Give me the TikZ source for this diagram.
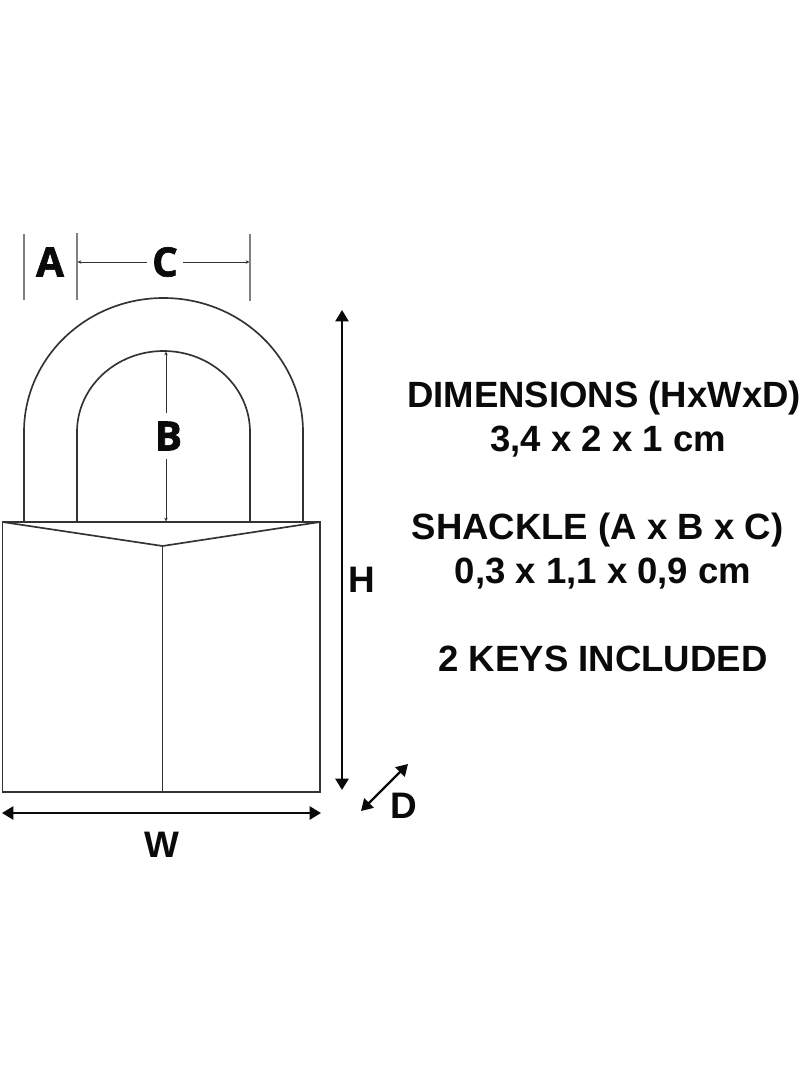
\documentclass[tikz,border=0pt]{standalone}
\usepackage{fontspec}
\usepackage{xcolor}
\setmainfont{Liberation Sans}
\newfontfamily\labelfont[BoldFeatures={FakeBold=1.6}]{Open Sans}
\usetikzlibrary{arrows.meta}
\definecolor{outline}{HTML}{333333}
\definecolor{tick}{HTML}{808080}
\definecolor{ink}{HTML}{0A0A0A}
\tikzset{
  lockLine/.style={draw=outline, line width=0.95pt},
  tickLine/.style={draw=tick, line width=0.6pt},
  thinEnd/.style={draw=outline, line width=0.55pt, -{Stealth[length=2.2pt,width=2pt]}},
  sizeArrow/.style={draw=ink, line width=1.3pt, {Stealth[length=6.5pt,width=7.5pt,inset=0pt]}-{Stealth[length=6.5pt,width=7.5pt,inset=0pt]}},
  partLabel/.style={text=ink, font=\labelfont\fontsize{23}{23}\selectfont\bfseries, inner sep=2.5pt},
  sizeLabel/.style={text=ink, font=\fontsize{21}{21}\selectfont\bfseries},
  infoText/.style={text=ink, font=\fontsize{20.8}{25}\selectfont\bfseries, anchor=base}
}

\begin{document}
\begin{tikzpicture}[x=0.02cm,y=0.02cm]
  \useasboundingbox[fill=white] (0,0) rectangle (800,-1091);

  \draw[lockLine] (24,-522) -- (24,-432) arc[start angle=180,end angle=0,x radius=139.5,y radius=134] -- (303,-522);
  \draw[lockLine] (77,-522) -- (77,-432) arc[start angle=180,end angle=0,x radius=86.5,y radius=81] -- (250,-522);
  \draw[lockLine] (2.5,-522) rectangle (320,-792);
  \draw[lockLine] (2.5,-522) -- (162.5,-546) -- (320,-522);
  \draw[lockLine] (162.5,-546) -- (162.5,-792);

  \draw[tickLine] (24,-234) -- (24,-300);
  \draw[tickLine] (77,-233) -- (77,-300);
  \draw[tickLine] (250,-234) -- (250,-301);

  \coordinate (tickL) at (77.5,-262);
  \coordinate (tickR) at (249.5,-262);
  \coordinate (archTop) at (166,-351.5);
  \coordinate (bodyTop) at (166,-521.5);
  \coordinate (hTop) at (342,-310);
  \coordinate (hBottom) at (342,-790);
  \coordinate (wLeft) at (2,-813);
  \coordinate (wRight) at (321,-813);
  \coordinate (dBottom) at (361,-811);
  \coordinate (dTop) at (408,-764);

  \node[partLabel] (labelA) at (50,-262) {A};
  \node[partLabel] (labelC) at (165,-262) {C};
  \node[partLabel] (labelB) at (168.5,-436) {B};
  \node[sizeLabel] (labelH) at (361.5,-580) {H};
  \node[sizeLabel] (labelW) at (162,-845) {W};
  \node[sizeLabel] (labelD) at (404,-806) {D};

  \draw[thinEnd] (labelC) -- (tickL);
  \draw[thinEnd] (labelC) -- (tickR);
  \draw[thinEnd] (labelB) ++(-2.5,23) coordinate (midB) -- (archTop);
  \draw[thinEnd] (labelB) ++(-2.5,-23) coordinate (lowB) -- (bodyTop);
  \draw[sizeArrow] (hTop) -- (hBottom);
  \draw[sizeArrow] (wLeft) -- (wRight);
  \draw[sizeArrow] (dBottom) -- (dTop);

  \node[infoText] (dims) at (604,-407) {DIMENSIONS (HxWxD)};
  \node[infoText] (dimsSize) at (608,-451) {3,4 x 2 x 1 cm};
  \node[infoText] (shackle) at (597.5,-539) {SHACKLE (A x B x C)};
  \node[infoText] (shackleSize) at (603,-583) {0,3 x 1,1 x 0,9 cm};
  \node[infoText] (keys) at (603,-671) {2 KEYS INCLUDED};
\end{tikzpicture}
\end{document}
